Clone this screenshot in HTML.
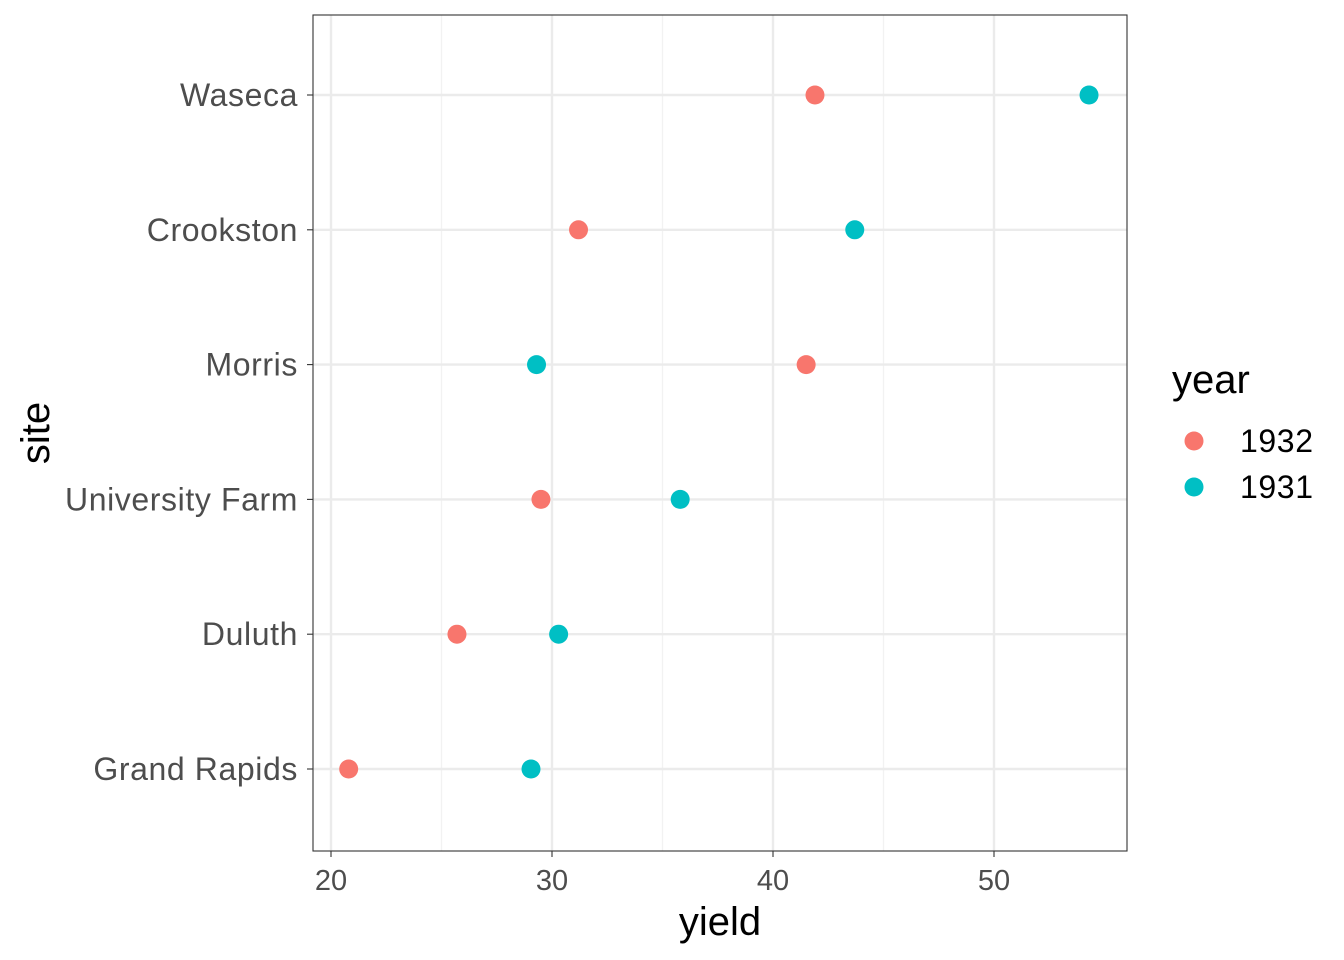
<!DOCTYPE html>
<html><head><meta charset="utf-8"><style>
html,body{margin:0;padding:0;background:#fff;}
svg{display:block;font-family:"Liberation Sans",Arial,sans-serif;}
</style></head><body>
<svg id="chart" width="1344" height="960">
<g id="grid"></g>
<g id="marks"></g>
<rect x="313" y="15" width="814" height="836" fill="none" stroke="#333" stroke-width="1.1"/>
<g id="axes"></g>
<text x="720" y="935" font-size="40" text-anchor="middle" fill="#000">yield</text>
<text transform="translate(49,433) rotate(-90)" font-size="40" text-anchor="middle" fill="#000">site</text>
<g>
<text x="1172" y="393" font-size="40" fill="#000">year</text>
<g>
<circle cx="1194" cy="441" r="9.5" fill="#F8766D"/>
<text x="1240" y="452" font-size="32" letter-spacing="0.6" fill="#000">1932</text></g>
<g>
<circle cx="1194" cy="487" r="9.5" fill="#00BFC4"/>
<text x="1240" y="498" font-size="32" letter-spacing="0.6" fill="#000">1931</text></g>
</g>
</svg>
<script>
const sites = ["Waseca","Crookston","Morris","University Farm","Duluth","Grand Rapids"];
const yield1932 = [41.9, 31.2, 41.5, 29.5, 25.7, 20.8];
const yield1931 = [54.3, 43.7, 29.3, 35.8, 30.3, 29.05];
const xTicks = [20, 30, 40, 50];
const xMinor = [25, 35, 45];

const NS = "http://www.w3.org/2000/svg";
const xScale = v => 331 + (v - 20) * 22.1;
const yScale = i => 95 + i * 134.8;
function mk(tag, attrs, parent){const e=document.createElementNS(NS,tag);for(const k in attrs)e.setAttribute(k,attrs[k]);parent.appendChild(e);return e;}
const grid=document.getElementById("grid"), marks=document.getElementById("marks"), axes=document.getElementById("axes");

xMinor.forEach(v=>{
  const l=mk("line",{x1:xScale(v),x2:xScale(v),y1:15,y2:851,stroke:"#f2f2f2","stroke-width":1.3},grid);
  
  
});
xTicks.forEach(v=>{
  const l=mk("line",{x1:xScale(v),x2:xScale(v),y1:15,y2:851,stroke:"#ebebeb","stroke-width":2.4},grid);
  
  
  const t=mk("line",{x1:xScale(v),x2:xScale(v),y1:851,y2:857,stroke:"#333","stroke-width":1.1},axes);
  
  
  const lb=mk("text",{x:xScale(v),y:890,"font-size":29,"text-anchor":"middle",fill:"#4d4d4d"},axes);
  lb.textContent=v;
  
  
});
sites.forEach((s,i)=>{
  const y=yScale(i);
  const l=mk("line",{x1:313,x2:1127,y1:y,y2:y,stroke:"#ebebeb","stroke-width":2.4},grid);
  
  
  const t=mk("line",{x1:307,x2:313,y1:y,y2:y,stroke:"#333","stroke-width":1.1},axes);
  
  
  const lb=mk("text",{x:298,y:y+11,"font-size":32,"letter-spacing":0.6,"text-anchor":"end",fill:"#4d4d4d"},axes);
  lb.textContent=s;
  
  
  const c2=mk("circle",{cx:xScale(yield1932[i]),cy:y,r:9.5,fill:"#F8766D"},marks);
  
  
  const c1=mk("circle",{cx:xScale(yield1931[i]),cy:y,r:9.5,fill:"#00BFC4"},marks);
  
  
});
</script>
</body></html>
